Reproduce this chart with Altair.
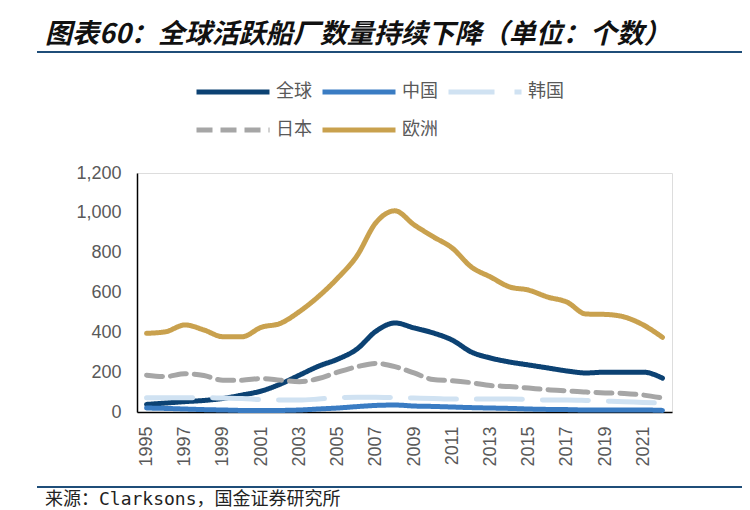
import altair as alt
import pandas as pd

years = list(range(1995, 2023))
series_names = ["全球", "中国", "韩国", "日本", "欧洲"]
global_vals = [38, 45, 52, 58, 68, 85, 105, 140, 185, 230, 265, 315, 405, 447,
               422, 397, 361, 301, 271, 251, 236, 221, 206, 196, 200, 200, 200, 170]
china_vals = [20, 18, 15, 12, 10, 8, 8, 8, 10, 15, 20, 27, 33, 35,
              30, 28, 25, 22, 20, 18, 15, 13, 12, 10, 10, 10, 10, 8]
korea_vals = [72, 72, 72, 72, 70, 68, 62, 60, 60, 65, 72, 74, 74, 72,
              70, 68, 65, 65, 65, 65, 63, 60, 60, 58, 55, 52, 48, 45]
japan_vals = [185, 178, 192, 183, 160, 160, 168, 160, 152, 168, 200, 227, 244, 228,
              196, 163, 157, 147, 133, 128, 120, 112, 106, 100, 96, 93, 85, 70]
europe_vals = [395, 403, 437, 412, 378, 378, 425, 445, 504, 580, 672, 782, 950, 1010,
               940, 880, 823, 728, 678, 628, 612, 577, 552, 492, 490, 477, 437, 375]
x_label_years = list(range(1995, 2022, 2))
y_ticks = [0, 200, 400, 600, 800, 1000, 1200]

title_text = "图表60：全球活跃船厂数量持续下降（单位：个数）"
source_text = "来源：Clarksons，国金证券研究所"

colors = ["#0c4273", "#3a7cc3", "#d0e2f2", "#a6a6a6", "#c9a14e"]
dashes = [[1, 0], [1, 0], [46, 20], [16, 8], [1, 0]]

rows = []
for name, vals in zip(series_names, [global_vals, china_vals, korea_vals, japan_vals, europe_vals]):
    for y, v in zip(years, vals):
        rows.append({"year": y, "value": v, "series": name})
df = pd.DataFrame(rows)

legend = alt.Legend(
    title=None, orient="none", legendX=57, legendY=-91, columns=3, direction="horizontal",
    symbolType="stroke", symbolSize=5329, symbolStrokeWidth=5,
    labelFontSize=18, labelColor="#595959", labelFont="Noto Sans CJK SC",
    labelOffset=4, columnPadding=8, rowPadding=18, clipHeight=20, padding=0,
)

lines = alt.Chart(df).mark_line(strokeWidth=5, interpolate="monotone", strokeCap="round").encode(
    x=alt.X("year:O", title=None,
            axis=alt.Axis(values=x_label_years, labelAngle=270, labelFontSize=18,
                          labelColor="#595959", labelFont="Liberation Sans",
                          tickSize=0, labelPadding=14, domainColor="#000000",
                          domainWidth=1.5)),
    y=alt.Y("value:Q", title=None,
            scale=alt.Scale(domain=[0, 1200]),
            axis=alt.Axis(values=y_ticks, format=",d", labelFontSize=18,
                          labelColor="#595959", labelFont="Liberation Sans",
                          tickSize=0, labelPadding=16, grid=False,
                          domainColor="#000000", domainWidth=1.5)),
    color=alt.Color("series:N", scale=alt.Scale(domain=series_names, range=colors), legend=legend),
    strokeDash=alt.StrokeDash("series:N", scale=alt.Scale(domain=series_names, range=dashes), legend=legend),
)

anno = alt.Data(values=[{"a": 1}])

title = alt.Chart(anno).mark_text(
    text=title_text, align="left", baseline="middle", fontSize=27,
    font="Noto Sans CJK SC", fontWeight="bold", fontStyle="italic", color="#111111",
).encode(x=alt.value(-92), y=alt.value(-138))

top_rule = alt.Chart(anno).mark_rule(color="#1f4e79", strokeWidth=2).encode(
    x=alt.value(-100), x2=alt.value(610), y=alt.value(-121))

bottom_rule = alt.Chart(anno).mark_rule(color="#1f4e79", strokeWidth=2).encode(
    x=alt.value(-100), x2=alt.value(610), y=alt.value(314))

source = alt.Chart(anno).mark_text(
    text=source_text, align="left", baseline="middle", fontSize=18,
    font="DejaVu Sans Mono, Noto Sans CJK SC", color="#222222",
).encode(x=alt.value(-92), y=alt.value(327))

chart = alt.layer(lines, title, top_rule, bottom_rule, source).properties(
    width=535, height=239,
    autosize=alt.AutoSizeParams(type="none"),
    padding={"left": 129, "top": 165, "right": 70, "bottom": 96},
).configure_view(stroke=None).configure(background="white")

chart.save("out.html", embed_options={"renderer": "svg", "actions": False})
